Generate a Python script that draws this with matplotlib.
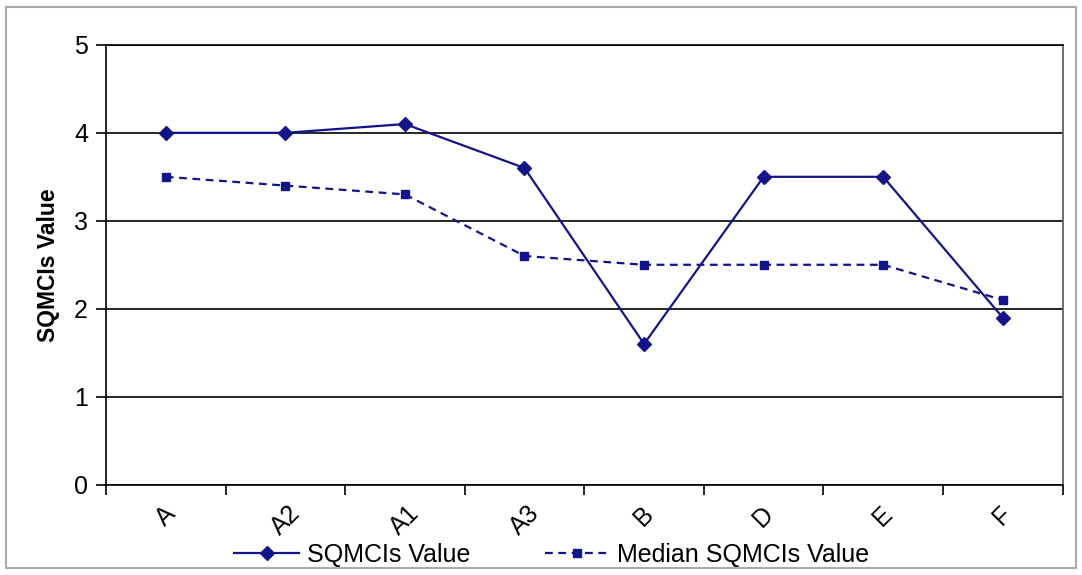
import numpy as np
import matplotlib.pyplot as plt
from matplotlib.patches import Rectangle

plt.rcParams['font.family'] = ['Liberation Sans', 'DejaVu Sans']

# Данные
sites = ['A', 'A2', 'A1', 'A3', 'B', 'D', 'E', 'F']
sqmci = [4.0, 4.0, 4.1, 3.6, 1.6, 3.5, 3.5, 1.9]
median_sqmci = [3.5, 3.4, 3.3, 2.6, 2.5, 2.5, 2.5, 2.1]

navy = '#14148a'

fig = plt.figure(figsize=(10.82, 5.75), dpi=100)
ax = fig.add_axes([0.098, 0.157, 0.884, 0.765])

x = np.arange(len(sites))
ax.plot(x, sqmci, color=navy, lw=1.6, marker='D', ms=7, label='SQMCIs Value')
ax.plot(x, median_sqmci, color=navy, lw=1.6, ls=(0, (3.5, 2.5)), marker='s', ms=6,
        label='Median SQMCIs Value')

ax.set_xlim(-0.5, len(sites) - 0.5)
ax.set_ylim(0, 5)
ax.set_yticks(range(6))
ax.yaxis.grid(True, color='black', lw=1.2)
ax.set_axisbelow(True)

# Деления по границам категорий, подписи по центрам
ax.set_xticks(np.arange(len(sites) + 1) - 0.5)
ax.set_xticklabels([])
ax.set_xticks(x, minor=True)
ax.set_xticklabels(sites, minor=True, rotation=45, fontsize=18)
ax.tick_params(axis='x', which='minor', length=0, pad=12)
ax.tick_params(axis='x', which='major', length=7, width=1.2, direction='out')
ax.tick_params(axis='y', length=7, width=1.2, labelsize=18, pad=6)

for s in ax.spines.values():
    s.set_linewidth(1.2)
ax.spines['right'].set_color('#555555')

ax.set_ylabel('SQMCIs Value', fontsize=16.5, fontweight='bold', labelpad=10)

fig.legend(loc='lower center', bbox_to_anchor=(0.51, -0.012), ncol=2, frameon=False,
           fontsize=18, handlelength=2.6, columnspacing=3, handletextpad=0.3,
           borderaxespad=0.2)

fig.patches.append(Rectangle((0.006, 0.012), 0.988, 0.976, transform=fig.transFigure,
                             fill=False, edgecolor='#aaaaaa', lw=1.5))

fig.savefig('out.png', dpi=100)
